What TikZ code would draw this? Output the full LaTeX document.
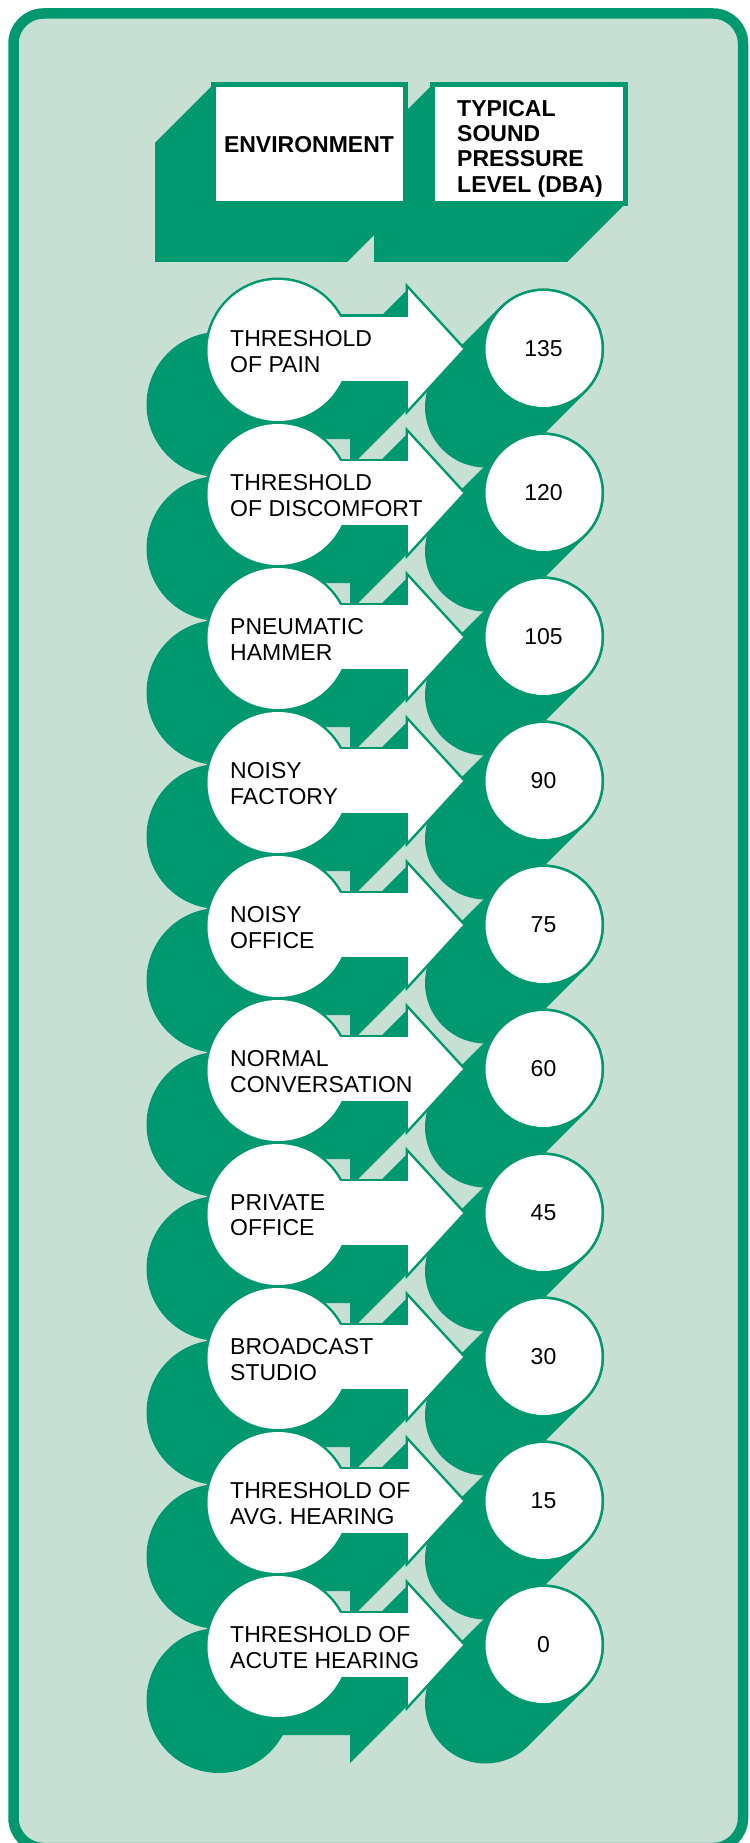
\documentclass[tikz,border=0pt]{standalone}
\usepackage{fontspec}
\setmainfont{Liberation Sans}
\definecolor{deepGreen}{RGB}{0,152,110}
\definecolor{paleGreen}{RGB}{200,224,212}
\tikzstyle{greenEdge} = [draw=deepGreen, line width=5pt]
\tikzstyle{whiteFace} = [fill=white]
\tikzstyle{dropFill} = [fill=deepGreen]
\tikzstyle{envText} = [anchor=north west, inner sep=0, align=left,
   font=\fontsize{23pt}{25.5pt}\selectfont]
\tikzstyle{levelText} = [inner sep=0, font=\fontsize{23pt}{25.5pt}\selectfont]
\tikzstyle{headText} = [inner sep=0, font=\bfseries\fontsize{23pt}{25.3pt}\selectfont]

% one row, local coordinates, row centre at y=0
\newcommand{\rowbody}[1]{%
  \path[#1] (278,1.5) circle[radius=70.5pt];
  \path[#1] (278,-32) rectangle (408,32);
  \path[#1] (408,-60) -- (463,0) -- (408,60) -- cycle;
  \path[#1] (543.5,0) circle[radius=58pt];
}
\newcommand{\rowshadow}{%
  \path[dropFill] (219,55.5) circle[radius=72.5pt];
  \path[dropFill] (278,-32) -- (408,-32) -- (408,32) -- (350,90) -- (220,90) -- (220,26) -- cycle;
  \path[dropFill] (408,-60) -- (463,0) -- (408,60) -- (350,118) -- (350,-2) -- cycle;
  \draw[deepGreen, line width=121pt, line cap=round] (543.5,0) -- ++(-58,58);
}

\begin{document}
\begin{tikzpicture}[x=1pt,y=-1pt]
  \fill[white] (0,0) rectangle (749,1843);
  \useasboundingbox (0,0) rectangle (749,1843);
  \draw[deepGreen, line width=10.5pt, fill=paleGreen, rounded corners=30pt]
    (13.5,13.5) rectangle (743,1848);

  % header: shadows, then boxes
  \path[dropFill] (213,85) -- (405,85) -- (405,204) -- (347,262) -- (155,262) -- (155,143) -- cycle;
  \path[dropFill] (432,85) -- (625,85) -- (625,204) -- (567,262) -- (374,262) -- (374,143) -- cycle;
  \path[greenEdge, whiteFace] (213,85) rectangle (405,204);
  \path[greenEdge, whiteFace] (432,85) rectangle (625,204);
  \node[headText] (environment) at (309,144.5) {ENVIRONMENT};
  \node[headText, anchor=north west, align=left] (pressure) at (457,100)
    {TYPICAL\\SOUND\\PRESSURE\\LEVEL (DBA)};

  % 1st pass: shadows of all rows
  \foreach \y in {349,493,...,1645}
    {\begin{scope}[shift={(0,\y)}] \rowshadow \end{scope}}

  % 2nd pass: green edges
  \foreach \y in {349,493,...,1645}
    {\begin{scope}[shift={(0,\y)}] \rowbody{greenEdge} \end{scope}}

  % 3rd pass: white faces on top
  \foreach \y in {349,493,...,1645}
    {\begin{scope}[shift={(0,\y)}] \rowbody{whiteFace} \end{scope}}

  % texts
  \foreach \y/\envA/\envB/\lvl [count=\i] in {
      349/THRESHOLD/OF PAIN/135,
      493/THRESHOLD/OF DISCOMFORT/120,
      637/PNEUMATIC/HAMMER/105,
      781/NOISY/FACTORY/90,
      925/NOISY/OFFICE/75,
      1069/NORMAL/CONVERSATION/60,
      1213/PRIVATE/OFFICE/45,
      1357/BROADCAST/STUDIO/30,
      1501/THRESHOLD OF/AVG. HEARING/15,
      1645/THRESHOLD OF/ACUTE HEARING/0} {
    \node[envText] (env\i) at (230,\y-18.7) {\envA\\\envB};
    \node[levelText] (lvl\i) at (543.5,\y) {\lvl};
  }
\end{tikzpicture}
\end{document}
